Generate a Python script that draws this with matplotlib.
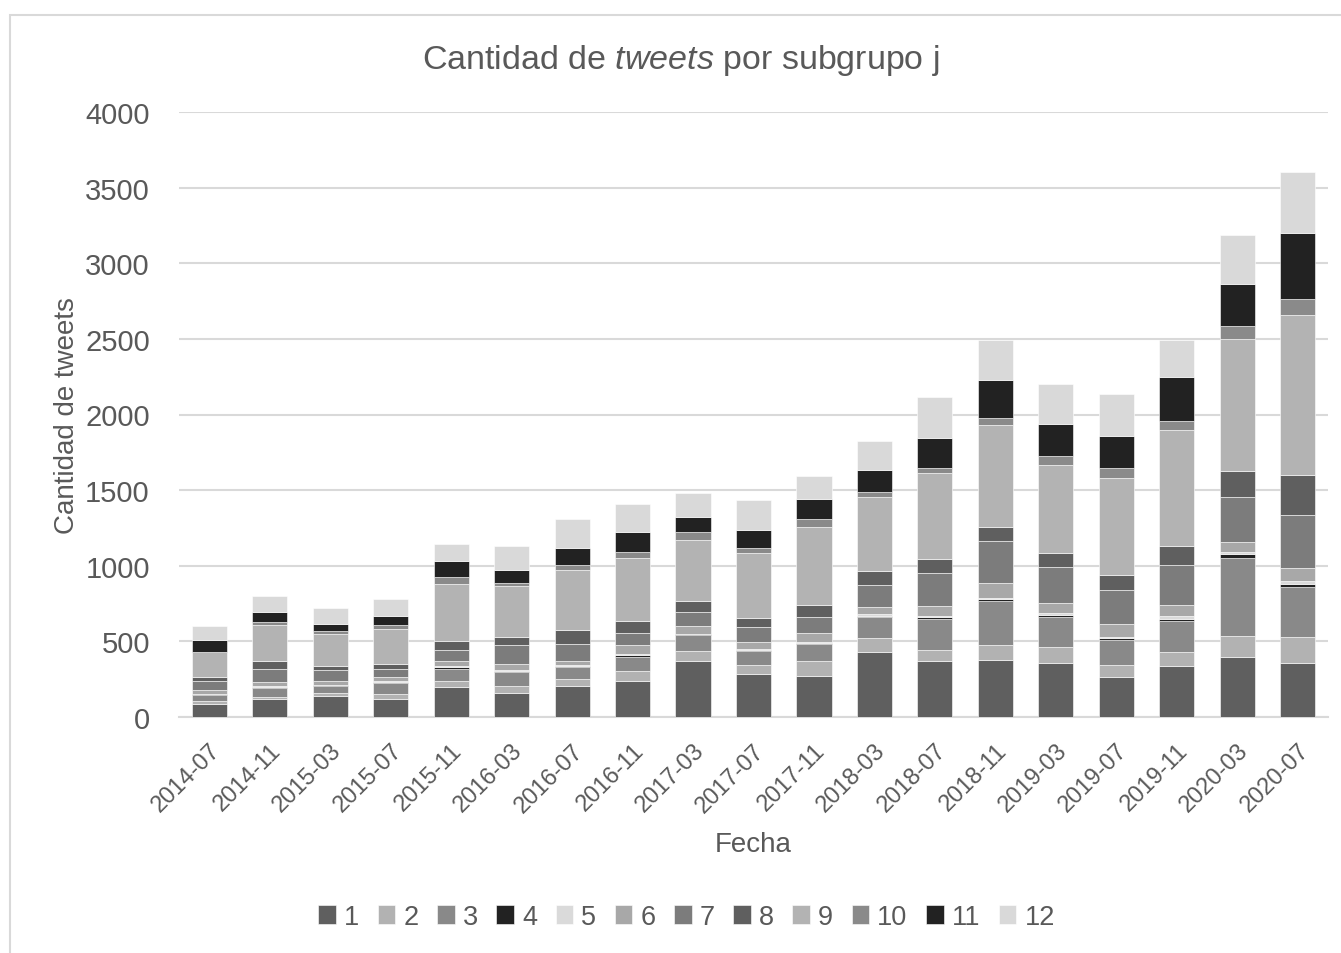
import matplotlib
matplotlib.use("Agg")
import matplotlib.pyplot as plt
import numpy as np
from matplotlib.patches import Rectangle

plt.rcParams['font.family'] = ['Liberation Sans', 'DejaVu Sans']
plt.rcParams['mathtext.fontset'] = 'custom'
plt.rcParams['mathtext.rm'] = 'Liberation Sans'
plt.rcParams['mathtext.it'] = 'Liberation Sans:italic'

fechas = ["2014-07", "2014-11", "2015-03", "2015-07", "2015-11", "2016-03", "2016-07",
          "2016-11", "2017-03", "2017-07", "2017-11", "2018-03", "2018-07", "2018-11",
          "2019-03", "2019-07", "2019-11", "2020-03", "2020-07"]

s1 = [87, 118, 138, 118, 201, 159, 208, 241, 369, 285, 274, 433, 367, 380, 355, 263, 336, 397, 355]
s2 = [18, 16, 18, 34, 40, 44, 42, 66, 69, 62, 97, 89, 79, 95, 111, 83, 94, 140, 172]
s3 = [40, 60, 49, 76, 79, 95, 79, 93, 101, 91, 111, 137, 201, 291, 194, 166, 206, 515, 331]
s4 = [6, 7, 7, 4, 9, 9, 7, 7, 7, 6, 9, 8, 15, 13, 13, 9, 10, 24, 24]
s5 = [3, 4, 2, 7, 7, 5, 7, 8, 4, 7, 6, 11, 9, 11, 14, 7, 21, 12, 17]
s6 = [25, 27, 23, 27, 31, 39, 30, 58, 49, 46, 56, 47, 66, 93, 64, 84, 71, 66, 87]
s7 = [60, 85, 75, 51, 79, 122, 109, 84, 97, 95, 110, 146, 212, 283, 238, 225, 267, 303, 350]
s8 = [27, 56, 27, 33, 54, 53, 90, 75, 69, 62, 77, 95, 98, 88, 95, 99, 123, 172, 267]
s9 = [163, 236, 210, 230, 380, 338, 403, 420, 406, 431, 513, 488, 565, 674, 581, 643, 769, 871, 1053]
s10 = [4, 16, 18, 25, 48, 24, 31, 38, 49, 33, 55, 36, 31, 48, 59, 66, 61, 87, 106]
s11 = [78, 69, 47, 65, 102, 82, 112, 132, 104, 120, 131, 141, 201, 254, 215, 216, 291, 279, 435]
s12 = [89, 107, 105, 111, 117, 162, 193, 186, 157, 196, 154, 192, 269, 265, 262, 272, 246, 319, 409]

series_labels = ["1", "2", "3", "4", "5", "6", "7", "8", "9", "10", "11", "12"]
series = [s1, s2, s3, s4, s5, s6, s7, s8, s9, s10, s11, s12]
colors = ["#5f5f5f", "#b2b2b2", "#898989", "#222222", "#dadada", "#a8a8a8",
          "#7c7c7c", "#5f5f5f", "#b3b3b3", "#8a8a8a", "#222222", "#d9d9d9"]

text_color = "#595959"

fig = plt.figure(figsize=(13.41, 9.54), dpi=100)
# chart area border
fig.patches.append(Rectangle((10 / 1341, -0.01), 1.02, (954 - 16) / 954 + 0.01,
                             transform=fig.transFigure, fill=False,
                             edgecolor="#d9d9d9", linewidth=1.5))

ax = fig.add_axes([179 / 1341, 236 / 954, (1328 - 179) / 1341, (718 - 113) / 954])

x = np.arange(len(fechas))
bottom = np.zeros(len(fechas))
handles = []
for lab, vals, col in zip(series_labels, series, colors):
    v = np.array(vals, dtype=float)
    b = ax.bar(x, v, width=0.58, bottom=bottom, color=col, label=lab,
               edgecolor="white", linewidth=0.4, zorder=3)
    handles.append(b)
    bottom += v

ax.set_xlim(-0.5, len(fechas) - 0.5)
ax.set_ylim(0, 4000)
ax.set_yticks(np.arange(0, 4001, 500))
ax.yaxis.grid(True, color="#d9d9d9", linewidth=1.5, zorder=0)
ax.set_axisbelow(True)
for sp in ["top", "right", "left"]:
    ax.spines[sp].set_visible(False)
ax.spines["bottom"].set_color("#d9d9d9")
ax.spines["bottom"].set_linewidth(1.5)
ax.tick_params(axis="both", length=0, colors=text_color)
ax.tick_params(axis="y", labelsize=21, pad=21)
ax.set_xticks(x)
ax.set_xticklabels(fechas, rotation=45, ha="right", rotation_mode="anchor",
                   fontsize=17, color=text_color)
ax.tick_params(axis="x", pad=16)

ax.set_xlabel("Fecha", fontsize=20, color=text_color, labelpad=11)
ax.set_ylabel("Cantidad de tweets", fontsize=20, color=text_color, labelpad=4)

fig.text(0.5075, 1 - 60 / 954, r"Cantidad de $\it{tweets}$ por subgrupo j",
         ha="center", va="center", fontsize=24.5, color=text_color)

leg = fig.legend(handles=handles, labels=series_labels, loc="center",
                 bbox_to_anchor=(0.512, 1 - 918 / 954), ncol=12, frameon=False,
                 fontsize=19.5, handlelength=0.65, handleheight=0.65,
                 handletextpad=0.3, columnspacing=0.68, labelcolor=text_color)

fig.savefig("out.png", dpi=100)
